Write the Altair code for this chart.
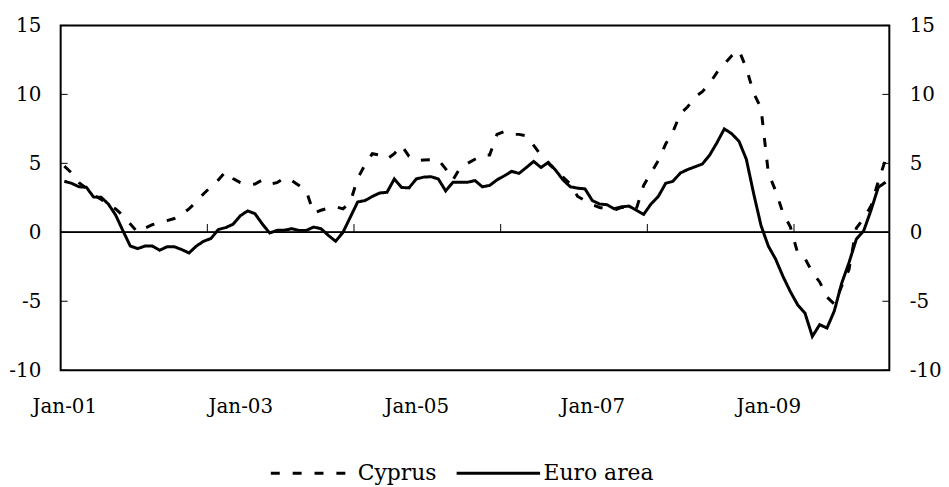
import altair as alt
import pandas as pd

# ---------------- data ----------------
months = pd.date_range("2001-01-01", periods=113, freq="MS")  # Jan-01 .. May-10
month_labels = [d.strftime("%b-%y") for d in months]

cyprus = [4.8, 4.3, 3.6, 3.2, 2.7, 2.4, 2.0, 1.7, 1.2, 0.6,
          0.0, 0.3, 0.55, 0.7, 0.85, 1.0, 1.3, 1.7, 2.2, 2.8,
          3.3, 3.8, 4.4, 3.9, 3.6, 3.45, 3.5, 3.8, 3.5, 3.6,
          3.95, 3.75, 3.4, 3.0, 1.4, 1.6, 1.75, 1.85, 1.7, 2.2,
          3.9, 4.9, 5.7, 5.6, 5.3, 5.7, 6.3, 5.5, 5.2, 5.25,
          5.26, 5.26, 4.6, 3.8, 4.7, 5.0, 5.3, 5.6, 5.6, 7.1,
          7.3, 7.1, 7.1, 7.0, 6.3, 5.6, 5.0, 4.5, 4.0, 3.5,
          2.6, 2.3, 2.0, 1.8, 1.7, 1.6, 1.8, 1.8, 1.7, 3.4,
          4.3, 5.2, 6.4, 7.3, 8.6, 9.1, 9.8, 10.2, 10.8, 11.6,
          12.2, 12.8, 13.2, 11.9, 10.1, 9.0, 4.3, 3.0, 1.4, 0.4,
          -1.5, -1.9, -2.9, -3.6, -4.7, -5.2, -3.9, -2.7, 0.3, 1.0,
          1.9, 3.7, 5.3]

euro = [3.7, 3.55, 3.3, 3.27, 2.55, 2.55, 2.05, 1.25, 0.1, -1.0,
        -1.18, -1.0, -1.0, -1.3, -1.05, -1.05, -1.25, -1.5, -1.0, -0.65,
        -0.45, 0.2, 0.34, 0.58, 1.2, 1.55, 1.35, 0.6, -0.05, 0.14,
        0.15, 0.26, 0.14, 0.14, 0.38, 0.26, -0.22, -0.65, 0.0, 1.1,
        2.2, 2.3, 2.6, 2.85, 2.9, 3.87, 3.25, 3.22, 3.87, 4.0,
        4.03, 3.87, 3.0, 3.63, 3.63, 3.63, 3.75, 3.3, 3.4, 3.8,
        4.1, 4.42, 4.27, 4.7, 5.14, 4.7, 5.07, 4.5, 3.8, 3.3,
        3.2, 3.15, 2.3, 2.05, 2.0, 1.7, 1.85, 1.9, 1.6, 1.3,
        2.05, 2.6, 3.55, 3.7, 4.3, 4.55, 4.75, 4.95, 5.6, 6.5,
        7.5, 7.15, 6.6, 5.3, 2.8, 0.5, -1.0, -1.95, -3.2, -4.3,
        -5.26, -5.86, -7.55, -6.7, -6.94, -5.7, -3.7, -2.2, -0.5, 0.1,
        1.6, 3.27, 3.63]

series_names = ["Cyprus", "Euro area"]
y_ticks = [-10, -5, 0, 5, 10, 15]
x_label_every = 24      # a label every 24 months (Jan-01, Jan-03, ...)
x_tick_every = 20       # a tick mark every 20 months on the zero line

# ---------------- layout ----------------
W, H = 834, 347
N = len(months)
FONT = "DejaVu Serif"

df = pd.DataFrame({
    "k": list(range(N)) * 2,
    "month": month_labels * 2,
    "series": [series_names[0]] * N + [series_names[1]] * N,
    "value": cyprus + euro,
})

label_pos = list(range(0, N, x_label_every))
label_text = [month_labels[i] for i in label_pos]
label_expr = "[" + ",".join("'%s'" % s for s in label_text) + "][round(datum.value / %d)]" % x_label_every

x_scale = alt.Scale(domain=[-0.5, N - 0.5], nice=False, zero=False)
y_scale = alt.Scale(domain=[-10, 15], nice=False)

# category boundaries where Excel-style tick marks sit
tick_df = pd.DataFrame({"k": [i - 0.5 for i in range(x_tick_every, N, x_tick_every)]})
ytick_df = pd.DataFrame({"tick": y_ticks})

lines = alt.Chart(df).mark_line(color="black", strokeWidth=3).encode(
    x=alt.X("k:Q", scale=x_scale,
            axis=alt.Axis(orient="bottom", values=label_pos, labelExpr=label_expr,
                          ticks=False, domain=False, grid=False,
                          labelFont=FONT, labelFontSize=20, labelColor="black",
                          labelPadding=27, labelFlush=False, labelOverlap=False, title=None)),
    y=alt.Y("value:Q", scale=y_scale,
            axis=alt.Axis(orient="left", values=y_ticks, ticks=False, domain=False, grid=False,
                          labelFont=FONT, labelFontSize=20, labelColor="black",
                          labelPadding=20, labelExpr="'' + datum.value", title=None)),
    strokeDash=alt.StrokeDash(
        "series:N",
        scale=alt.Scale(domain=series_names, range=[[9, 13], [1, 0]]),
        legend=alt.Legend(orient="none", legendX=210, legendY=407, direction="horizontal",
                          title=None, symbolType="stroke", symbolSize=7056,
                          symbolStrokeWidth=3, symbolStrokeColor="black",
                          labelFont=FONT, labelFontSize=22, labelColor="black",
                          labelOffset=2, columnPadding=13, padding=0),
    ),
    order=alt.Order("k:Q"),
)

zero = alt.Chart(ytick_df).mark_rule(color="black", strokeWidth=1.2).encode(
    y=alt.YDatum(0, axis=None, scale=y_scale)
)

xticks = alt.Chart(tick_df).mark_rule(color="black", strokeWidth=1).encode(
    x=alt.X("k:Q", scale=x_scale, axis=alt.Axis(orient="top", labels=False, ticks=False,
                                                 domain=False, grid=False, title=None)),
    y=alt.YDatum(0, axis=None),
    y2=alt.Y2Datum(0.6),
)

left_ticks = alt.Chart(ytick_df).mark_rule(color="black", strokeWidth=1).encode(
    y=alt.Y("tick:Q", scale=y_scale, axis=None),
    x=alt.value(0), x2=alt.value(7),
)

right_ticks = alt.Chart(ytick_df).mark_rule(color="black", strokeWidth=1).encode(
    y=alt.Y("tick:Q", scale=y_scale,
            axis=alt.Axis(orient="right", values=y_ticks, ticks=False, domain=False, grid=False,
                          labelFont=FONT, labelFontSize=20, labelColor="black",
                          labelPadding=20, labelExpr="'' + datum.value", title=None)),
    x=alt.value(W - 7), x2=alt.value(W),
)

chart = alt.layer(lines, zero, xticks, left_ticks, right_ticks).resolve_axis(
    x="independent", y="independent"
).properties(
    width=W, height=H,
    padding={"left": 53, "top": 16, "right": 52, "bottom": 116},
    autosize=alt.AutoSizeParams(type="none"),
).configure_view(stroke="black", strokeWidth=2)

chart.save("out.html", embed_options={"renderer": "svg", "actions": False})
